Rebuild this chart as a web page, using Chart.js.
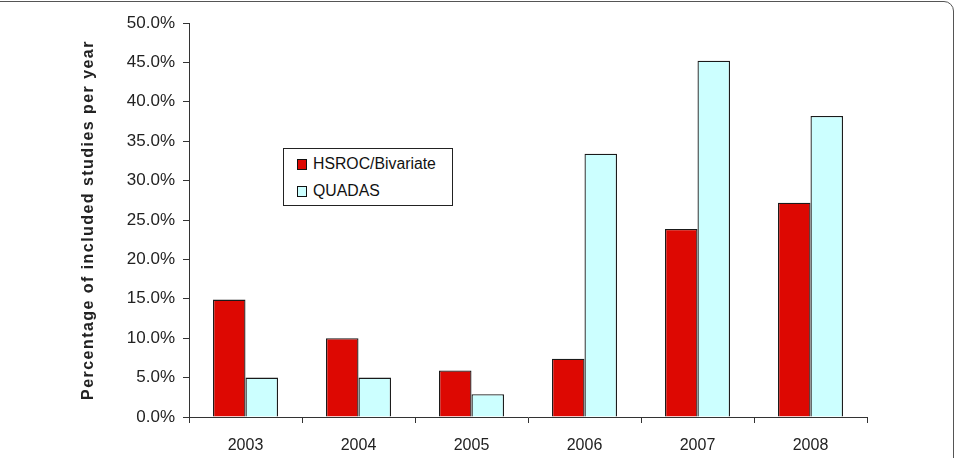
<!DOCTYPE html>
<html>
<head>
<meta charset="utf-8">
<script src="https://cdn.jsdelivr.net/npm/chart.js@4"></script>
<style>
  html, body { margin: 0; padding: 0; background: #fff; }
  #wrap { position: relative; width: 955px; height: 458px; overflow: hidden; }
  #frame { position: absolute; left: -20px; top: 1px; width: 974px; height: 500px;
           border: 1.5px solid #555; border-radius: 10px; box-sizing: border-box; }
  #legend { position: absolute; left: 283px; top: 148px; width: 170px; height: 58px;
            border: 1px solid #222; box-sizing: border-box; background: #fff;
            font: 15.8px "Liberation Sans", Arial, sans-serif; color: #111; }
  .item { position: absolute; left: 13px; height: 18px; line-height: 18px; white-space: nowrap; }
  .sw { display: inline-block; width: 8px; height: 9px; border: 1px solid #111;
        vertical-align: -1px; margin-right: 6px; }
</style>
</head>
<body>
<div id="wrap">
  <canvas id="c" width="955" height="458"></canvas>
  <div id="frame"></div>
  <div id="legend"></div>
</div>
<script>
// 年ごとのデータ
const years = ['2003', '2004', '2005', '2006', '2007', '2008'];
const hsroc = [14.9, 10.0, 5.9, 7.4, 23.85, 27.2];
const quadas = [5.0, 5.0, 2.9, 33.4, 45.2, 38.2];
const seriesNames = ['HSROC/Bivariate', 'QUADAS'];
const seriesColors = ['#dd0802', '#ccffff'];

const FONT = '"Liberation Sans", Arial, sans-serif';

// HTML legend
const legendEl = document.getElementById('legend');
seriesNames.forEach((name, i) => {
  const d = document.createElement('div');
  d.className = 'item';
  d.style.top = (6 + i * 27) + 'px';
  d.innerHTML = '<span class="sw" style="background:' + seriesColors[i] + '"></span>' + name;
  legendEl.appendChild(d);
});

// 縦軸タイトルだけ字間を広げる
const titleSpacing = {
  id: 'titleSpacing',
  afterLayout(chart) {
    const s = chart.scales.y;
    if (s._spaced) return;
    const orig = s.drawTitle;
    s.drawTitle = function () {
      this.ctx.save();
      this.ctx.letterSpacing = '1.45px';
      orig.apply(this, arguments);
      this.ctx.restore();
    };
    s._spaced = true;
  },
};

new Chart(document.getElementById('c'), {
  type: 'bar',
  data: {
    labels: years,
    datasets: [
      { label: seriesNames[0], data: hsroc, backgroundColor: seriesColors[0],
        borderColor: '#1a1a1a', borderWidth: 1.3 },
      { label: seriesNames[1], data: quadas, backgroundColor: seriesColors[1],
        borderColor: '#1a1a1a', borderWidth: 1.3 },
    ],
  },
  plugins: [titleSpacing],
  options: {
    responsive: false,
    animation: false,
    layout: { padding: { left: 79, right: 88, top: 23, bottom: 0 } },
    datasets: { bar: { categoryPercentage: 0.575, barPercentage: 1.0 } },
    plugins: { legend: { display: false }, tooltip: { enabled: false } },
    scales: {
      x: {
        grid: { drawOnChartArea: false, drawTicks: true, tickLength: 6, color: '#333', offset: true },
        border: { color: '#333', width: 1 },
        ticks: { color: '#222', padding: 13, font: { family: FONT, size: 16 } },
        afterFit: s => { s.height = 41; },
      },
      y: {
        min: 0, max: 50,
        grid: { drawOnChartArea: false, drawTicks: true, tickLength: 6, color: '#333' },
        border: { color: '#333', width: 1 },
        ticks: { stepSize: 5, color: '#222', padding: 8,
                 font: { family: FONT, size: 17 },
                 callback: v => v.toFixed(1) + '%' },
        title: { display: true, text: 'Percentage of included studies per year', color: '#222',
                 padding: { top: 0, bottom: 0 },
                 font: { family: FONT, size: 16, weight: 'bold' } },
        afterFit: s => { s.width = 110; },
      },
    },
  },
});
</script>
</body>
</html>
